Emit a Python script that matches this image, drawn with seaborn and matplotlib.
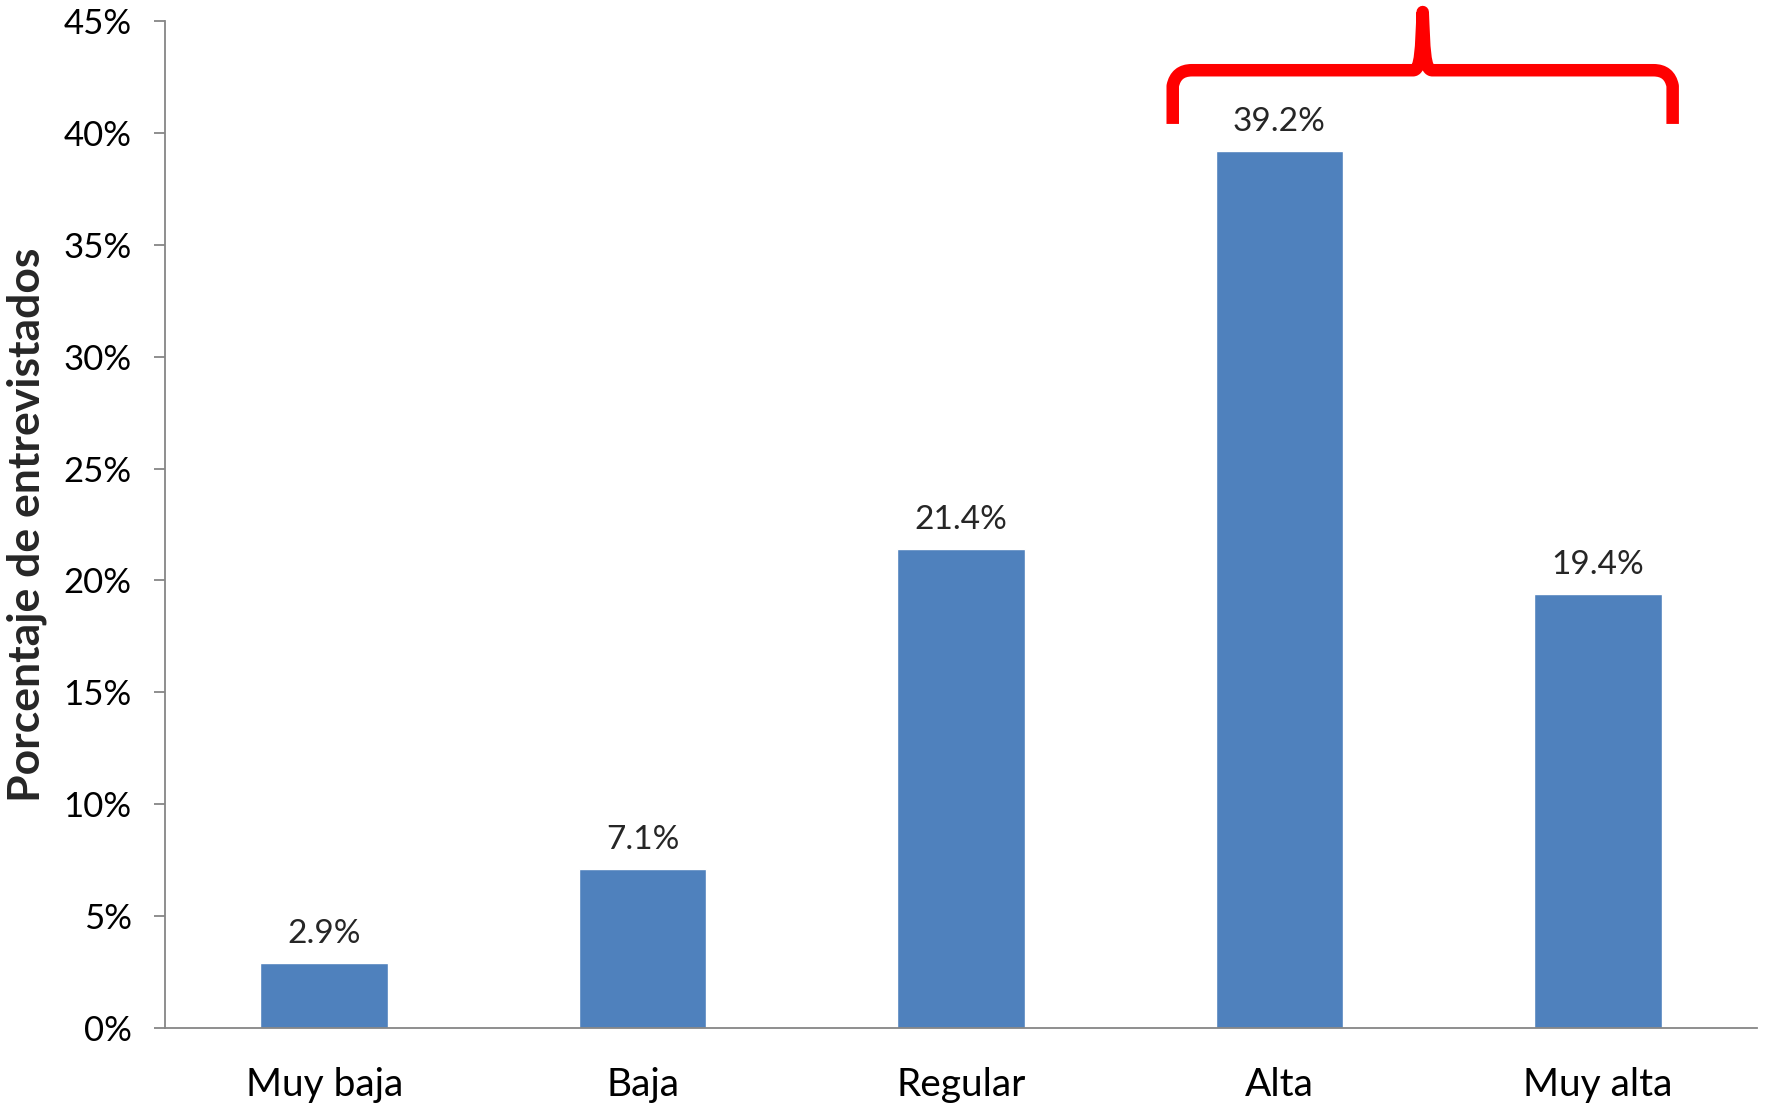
import matplotlib.pyplot as plt
import seaborn as sns
from matplotlib.path import Path
from matplotlib.patches import PathPatch

# Data
categories = ["Muy baja", "Baja", "Regular", "Alta", "Muy alta"]
values = [2.9, 7.1, 21.4, 39.2, 19.4]
y_ticks = [0, 5, 10, 15, 20, 25, 30, 35, 40, 45]
y_tick_labels = ["0%", "5%", "10%", "15%", "20%", "25%", "30%", "35%", "40%", "45%"]
brace_label = "58.6%"

sns.set_style("white")
plt.rcParams["font.family"] = ["Lato", "DejaVu Sans"]

fig = plt.figure(figsize=(17.68, 11.05), dpi=100)
ax = fig.add_axes([0.0933, 0.0697, 0.9005, 0.9113])

sns.barplot(x=categories, y=values, color="#4F81BD", width=0.4, saturation=1, ax=ax)

ax.set_xlim(-0.5, 4.5)
ax.set_ylim(0, 45)
ax.set_yticks(y_ticks)
ax.set_yticklabels(y_tick_labels)
ax.set_xticks(range(len(categories)))
ax.set_xticks([i - 0.5 for i in range(len(categories) + 1)], minor=True)

ax.tick_params(axis="x", which="major", length=0, pad=28, labelsize=28, colors="black")
ax.tick_params(axis="x", which="minor", length=10, width=1.3, color="#868686", direction="out")
ax.tick_params(axis="y", length=8, width=1.3, color="#868686", pad=16, labelsize=25, labelcolor="black", left=True)

for side in ["top", "right"]:
    ax.spines[side].set_visible(False)
for side in ["left", "bottom"]:
    ax.spines[side].set_color("#868686")
    ax.spines[side].set_linewidth(1.3)

ax.set_ylabel("Porcentaje de entrevistados", fontsize=32, fontweight="bold", labelpad=12)
ax.set_xlabel("")

ax.bar_label(ax.containers[0], fmt="%.1f%%", padding=10, fontsize=24)

# Red curly brace over "Alta" and "Muy alta"
xl, xr, xm = 2.665, 4.235, 3.45
yb, yh, yt = 40.4, 42.8, 45.4
r = 0.06
verts = [
    (xl, yb), (xl, yh - 0.7), (xl + 0.01, yh), (xl + r, yh),
    (xm - 0.03, yh), (xm - 0.005, yh), (xm - 0.005, yh + 1.0), (xm, yt),
    (xm + 0.005, yh + 1.0), (xm + 0.005, yh), (xm + 0.03, yh),
    (xr - r, yh), (xr - 0.01, yh), (xr, yh - 0.7), (xr, yb),
]
codes = [
    Path.MOVETO, Path.LINETO, Path.CURVE3, Path.CURVE3,
    Path.LINETO, Path.CURVE4, Path.CURVE4, Path.CURVE4,
    Path.CURVE4, Path.CURVE4, Path.CURVE4,
    Path.LINETO, Path.CURVE3, Path.CURVE3, Path.LINETO,
]
brace = PathPatch(Path(verts, codes), fill=False, edgecolor="#FF0000", linewidth=9,
                  capstyle="butt", joinstyle="round", clip_on=False)
ax.add_patch(brace)

# label above the brace, mostly outside the top edge as in the source
fig.text(0.823, 0.9975, brace_label, color="#FF0000", fontsize=30, fontweight="bold",
         ha="center", va="bottom")

fig.savefig("out.png", dpi=100)
